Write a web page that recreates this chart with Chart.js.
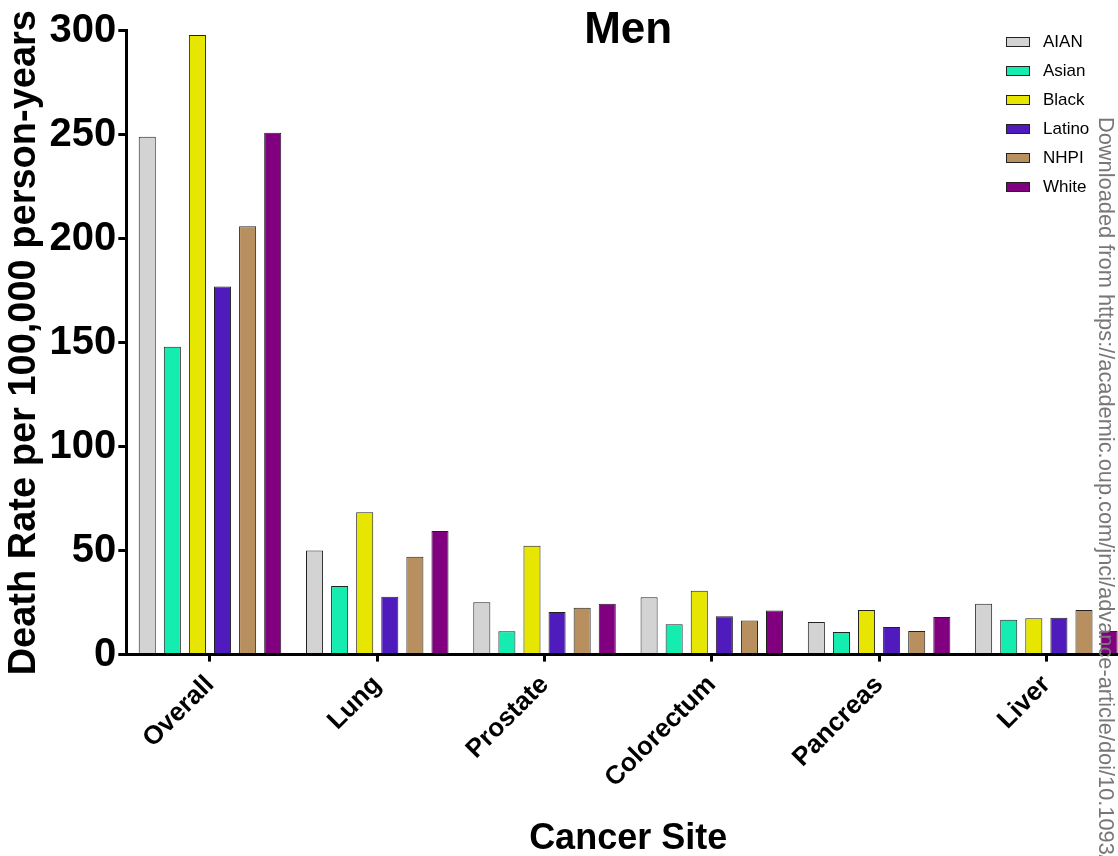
<!DOCTYPE html>
<html>
<head>
<meta charset="utf-8">
<script src="https://cdn.jsdelivr.net/npm/chart.js@4"></script>
<style>
html,body{margin:0;padding:0;background:#fff;overflow:hidden;}
#wrap{position:relative;width:1130px;height:856px;}
</style>
</head>
<body>
<div id="wrap"><canvas id="c"></canvas></div>
<script>
const categories = ["Overall", "Lung", "Prostate", "Colorectum", "Pancreas", "Liver"];
const groups = ["AIAN", "Asian", "Black", "Latino", "NHPI", "White"];
const aian   = [249, 50, 25.2, 27.6, 15.7, 24.4];
const asian  = [148, 33, 11.2, 14.6, 10.9, 16.7];
const black  = [298, 68.4, 52.3, 30.7, 21.5, 17.5];
const latino = [177, 27.8, 20.5, 18.4, 13.3, 17.7];
const nhpi   = [206, 47, 22.5, 16.4, 11.4, 21.5];
const white  = [251, 59.4, 24.4, 21.2, 18.1, 11.4];
const yTicks = [0, 50, 100, 150, 200, 250, 300];
const colors = ["#d3d3d3", "#14ecb0", "#e6e600", "#4f1bbd", "#b89060", "#800080"];
const watermark = "Downloaded from https://academic.oup.com/jnci/advance-article/doi/10.1093/jnci/";

const seriesValues = [aian, asian, black, latino, nhpi, white];
const FONT = "'Liberation Sans', Arial, sans-serif";

const legendPlugin = {
  id: 'customLegend',
  afterDraw(chart) {
    const ctx = chart.ctx;
    ctx.save();
    chart.data.datasets.forEach((ds, i) => {
      const y = 42 + i * 29;
      ctx.fillStyle = ds.backgroundColor;
      ctx.fillRect(1006, y - 5, 24, 10);
      ctx.strokeStyle = '#222';
      ctx.lineWidth = 1;
      ctx.strokeRect(1006.5, y - 4.5, 23, 9);
      ctx.fillStyle = '#000';
      ctx.font = "17px " + FONT;
      ctx.textBaseline = 'middle';
      ctx.textAlign = 'left';
      ctx.fillText(ds.label, 1043, y);
    });
    // watermark
    ctx.translate(1099, 117);
    ctx.rotate(Math.PI / 2);
    ctx.fillStyle = '#777';
    ctx.font = "21.8px " + FONT;
    ctx.textBaseline = 'alphabetic';
    ctx.textAlign = 'left';
    ctx.fillText(watermark, 0, 0);
    ctx.restore();
  }
};

new Chart(document.getElementById('c'), {
  type: 'bar',
  data: {
    labels: categories,
    datasets: groups.map((g, i) => ({
      label: g,
      data: seriesValues[i],
      backgroundColor: colors[i],
      borderColor: '#222',
      borderWidth: 1,
      categoryPercentage: 0.9,
      barPercentage: 0.68
    }))
  },
  options: {
    responsive: true,
    maintainAspectRatio: false,
    animation: false,
    layout: { padding: { left: 2, right: 0, top: 0, bottom: 0 } },
    plugins: {
      legend: { display: false },
      tooltip: { enabled: false },
      title: {
        display: true,
        fullSize: false,
        text: 'Men',
        color: '#000',
        font: { family: FONT, size: 44, weight: 'bold' },
        padding: { top: 4.5, bottom: -26.5 }
      }
    },
    scales: {
      x: {
        offset: true,
        grid: { display: true, drawOnChartArea: false, drawTicks: true, offset: false, tickLength: 7, tickWidth: 3, tickColor: '#000', lineWidth: 3, color: '#000' },
        border: { display: true, color: '#000', width: 3 },
        ticks: {
          color: '#000',
          font: { family: FONT, size: 26, weight: 'bold' },
          maxRotation: 45, minRotation: 45, padding: 8
        },
        title: {
          display: true, text: 'Cancer Site', color: '#000',
          font: { family: FONT, size: 36, weight: 'bold' },
          padding: { top: 15.5, bottom: -4.5 }
        }
      },
      y: {
        min: 0, max: 300,
        afterBuildTicks(scale) { scale.ticks = yTicks.map(v => ({ value: v })); },
        grid: { display: true, drawOnChartArea: false, drawTicks: true, tickLength: 8, tickWidth: 3, tickColor: '#000', lineWidth: 3, color: '#000' },
        border: { display: true, color: '#000', width: 3 },
        ticks: {
          color: '#000',
          font: { family: FONT, size: 40, weight: 'bold' },
          padding: 2
        },
        title: {
          display: true, text: 'Death Rate per 100,000 person-years', color: '#000',
          font: { family: FONT, size: 38, weight: 'bold' },
          padding: { top: 0, bottom: 0 }
        }
      }
    }
  },
  plugins: [legendPlugin]
});
</script>
</body>
</html>
